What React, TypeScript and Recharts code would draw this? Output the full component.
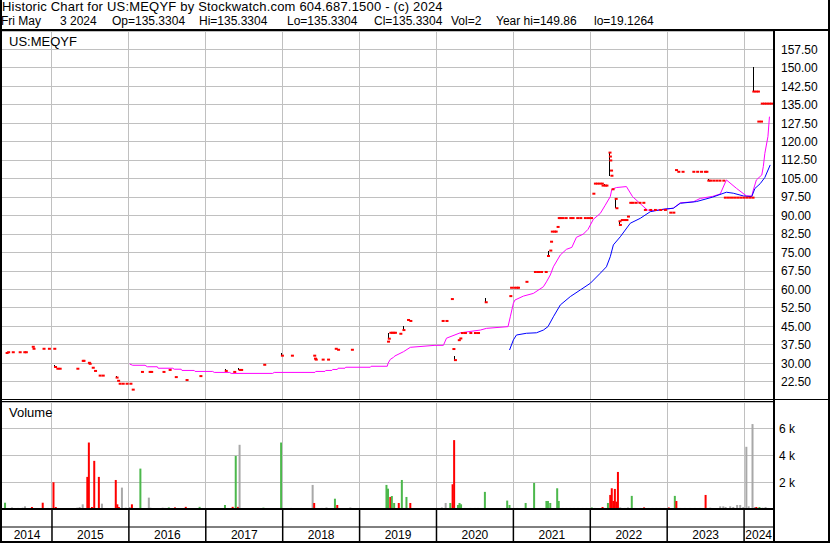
import React from 'react'
import { ComposedChart, Bar, Line, Scatter, XAxis, YAxis, CartesianGrid } from 'recharts'

// time axis in fractional years, first bar mid-May 2014, last May 3 2024
const X_DOMAIN: [number, number] = [2014.35, 2024.376]
const PRICE_DOMAIN: [number, number] = [15.5, 165]
const VOLUME_DOMAIN: [number, number] = [0, 8000]
const yearBounds = [2015, 2016, 2017, 2018, 2019, 2020, 2021, 2022, 2023, 2024]
const yearCentres = [2014.675, 2015.5, 2016.5, 2017.5, 2018.5, 2019.5, 2020.5, 2021.5, 2022.5, 2023.5, 2024.19]
const priceTicks = [22.5, 30, 37.5, 45, 52.5, 60, 67.5, 75, 82.5, 90, 97.5, 105, 112.5, 120, 127.5, 135, 142.5, 150, 157.5]
const volumeTicks = [2000, 4000, 6000]

// [year, close]
const closes: [number, number][] = [
  [2014.41, 34.2], [2014.43, 34.5], [2014.49, 34.5], [2014.58, 34.5], [2014.64, 34.5], [2014.66, 34.5],
  [2014.75, 36.7], [2014.76, 35.9], [2014.89, 35.9], [2014.96, 35.9], [2015.03, 35.9], [2015.04, 28.5],
  [2015.07, 27.8], [2015.1, 27.8], [2015.33, 27.8], [2015.4, 31.0], [2015.41, 31.0], [2015.48, 30.2],
  [2015.49, 29.8], [2015.53, 28.2], [2015.56, 26.9], [2015.62, 25.0], [2015.66, 25.0], [2015.84, 24.2],
  [2015.86, 22.9], [2015.88, 21.7], [2015.92, 21.7], [2015.97, 21.7], [2016.02, 21.7], [2016.05, 19.3],
  [2016.17, 26.5], [2016.27, 26.5], [2016.29, 26.5], [2016.45, 26.5], [2016.53, 27.3], [2016.61, 24.4],
  [2016.75, 23.2], [2016.93, 24.8], [2017.26, 26.9], [2017.37, 26.5], [2017.44, 27.3], [2017.46, 27.3],
  [2017.76, 29.4], [2017.99, 33.1], [2018.12, 33.1], [2018.41, 33.1], [2018.42, 31.9], [2018.43, 31.5],
  [2018.52, 31.5], [2018.59, 31.5], [2018.69, 35.9], [2018.72, 35.5], [2018.9, 35.5], [2019.37, 38.8],
  [2019.38, 40.0], [2019.4, 42.4], [2019.42, 42.4], [2019.44, 42.4], [2019.46, 42.4], [2019.53, 42.0],
  [2019.57, 43.5], [2019.63, 47.6], [2019.66, 47.2], [2020.08, 47.2], [2020.13, 47.2], [2020.2, 56.1],
  [2020.22, 35.8], [2020.24, 31.3], [2020.29, 39.4], [2020.31, 40.1], [2020.33, 42.3], [2020.37, 42.3],
  [2020.44, 42.3], [2020.5, 42.3], [2020.54, 42.3], [2020.64, 54.8], [2020.96, 57.3], [2020.97, 60.7],
  [2021.01, 60.7], [2021.04, 60.7], [2021.06, 60.7], [2021.17, 63.1], [2021.28, 67.1], [2021.32, 67.1],
  [2021.36, 67.1], [2021.42, 67.1], [2021.45, 73.6], [2021.48, 75.8], [2021.49, 79.4], [2021.5, 83.5],
  [2021.53, 83.5], [2021.55, 83.5], [2021.575, 85.4], [2021.59, 89.0], [2021.61, 89.0], [2021.64, 89.0],
  [2021.68, 89.0], [2021.74, 89.0], [2021.77, 89.0], [2021.83, 89.0], [2021.87, 89.0], [2021.93, 89.0],
  [2021.97, 89.0], [2022.01, 89.0], [2022.04, 98.9], [2022.06, 103.0], [2022.09, 103.0], [2022.12, 103.0],
  [2022.15, 103.0], [2022.16, 102.2], [2022.19, 102.2], [2022.21, 102.2], [2022.25, 115.6], [2022.255, 114.0],
  [2022.26, 112.4], [2022.27, 108.3], [2022.275, 106.2], [2022.29, 100.7], [2022.33, 96.8], [2022.34, 93.0],
  [2022.38, 87.7], [2022.385, 86.2], [2022.41, 88.2], [2022.44, 88.2], [2022.47, 88.2], [2022.49, 89.6],
  [2022.52, 95.2], [2022.55, 95.2], [2022.59, 95.2], [2022.64, 95.2], [2022.69, 95.2], [2022.71, 92.3],
  [2022.78, 92.3], [2022.84, 92.3], [2022.91, 92.3], [2022.97, 92.3], [2023.04, 91.2], [2023.08, 91.2],
  [2023.115, 108.5], [2023.145, 107.8], [2023.2, 107.8], [2023.34, 107.8], [2023.39, 107.8], [2023.44, 107.8],
  [2023.49, 107.8], [2023.51, 107.8], [2023.535, 104.2], [2023.56, 104.2], [2023.6, 104.2], [2023.64, 104.2],
  [2023.68, 104.2], [2023.73, 104.2], [2023.75, 97.3], [2023.79, 97.3], [2023.83, 97.3], [2023.87, 97.3],
  [2023.91, 97.3], [2023.95, 97.3], [2023.99, 97.3], [2024.03, 97.3], [2024.07, 97.3], [2024.11, 97.3],
  [2024.12, 140.4], [2024.15, 140.4], [2024.18, 140.4], [2024.185, 128.2], [2024.22, 128.2],
  [2024.23, 135.5], [2024.26, 135.5], [2024.29, 135.5], [2024.32, 135.5], [2024.35, 135.5],
]

// [year, low, high] for the days with a visible range
const hiLo: [number, number, number][] = [
  [2015.03, 28.5, 29.3], [2015.84, 24.2, 25.0], [2017.25, 26.9, 27.6], [2017.43, 27.3, 28.0],
  [2017.99, 33.1, 34.3], [2019.38, 40.0, 42.4], [2019.57, 43.5, 45.3], [2020.24, 31.3, 33.1],
  [2020.64, 54.8, 56.6], [2021.46, 73.6, 75.8], [2022.18, 102.2, 103.0], [2022.25, 106.2, 115.6],
  [2022.33, 93.0, 96.8], [2022.38, 86.2, 88.0], [2023.535, 104.2, 105.0], [2024.12, 140.4, 150.3],
]

const avgFast: [number, number][] = [
  [2016.01, 29.7], [2016.05, 29.2], [2016.21, 29.2], [2016.24, 28.6], [2016.37, 28.6], [2016.38, 28.0],
  [2016.57, 28.0], [2016.59, 27.6], [2016.68, 27.6], [2016.69, 27.1], [2016.85, 27.1], [2016.86, 26.7],
  [2017.09, 26.7], [2017.11, 26.3], [2017.31, 26.3], [2017.33, 25.9], [2017.87, 25.9], [2017.89, 26.3],
  [2018.42, 26.3], [2018.43, 26.7], [2018.55, 26.7], [2018.56, 27.1], [2018.64, 27.1], [2018.65, 27.5],
  [2018.71, 27.5], [2018.72, 28.0], [2018.81, 28.0], [2018.82, 28.4], [2019.14, 28.4], [2019.15, 28.8],
  [2019.36, 28.8], [2019.37, 30.0], [2019.4, 31.6], [2019.44, 32.4], [2019.46, 33.0], [2019.57, 34.7],
  [2019.66, 36.5], [2019.98, 37.3], [2020.09, 37.3], [2020.13, 40.2], [2020.31, 42.4], [2020.57, 43.5],
  [2020.65, 44.2], [2020.93, 44.9], [2020.96, 48.9], [2021.0, 54.4], [2021.02, 55.7], [2021.13, 57.3],
  [2021.26, 58.4], [2021.39, 61.1], [2021.43, 63.1], [2021.48, 65.9], [2021.52, 69.2], [2021.61, 74.0],
  [2021.69, 76.3], [2021.76, 77.1], [2021.82, 81.2], [2021.91, 82.5], [2021.97, 84.4], [2022.04, 88.5],
  [2022.13, 90.9], [2022.19, 94.0], [2022.26, 97.7], [2022.28, 100.7], [2022.34, 101.4], [2022.47, 101.8],
  [2022.55, 97.7], [2022.74, 92.3], [2022.82, 92.0], [2023.08, 93.0], [2023.17, 95.2], [2023.34, 95.6],
  [2023.43, 97.0], [2023.59, 97.8], [2023.69, 98.8], [2023.77, 104.5], [2023.9, 101.1], [2024.03, 98.0],
  [2024.1, 98.0], [2024.12, 100.4], [2024.16, 104.5], [2024.23, 106.5], [2024.25, 109.9], [2024.27, 115.3],
  [2024.31, 122.1], [2024.33, 130.2],
]

const avgSlow: [number, number][] = [
  [2020.95, 35.4], [2021.0, 39.5], [2021.04, 41.5], [2021.17, 42.2], [2021.3, 42.4], [2021.39, 43.5],
  [2021.45, 44.9], [2021.52, 48.9], [2021.61, 53.7], [2021.74, 57.1], [2021.87, 59.8], [2022.0, 62.5],
  [2022.13, 66.6], [2022.21, 69.2], [2022.26, 73.3], [2022.3, 78.1], [2022.39, 81.4], [2022.52, 86.9],
  [2022.65, 88.9], [2022.78, 91.6], [2022.95, 92.6], [2023.08, 93.0], [2023.17, 95.0], [2023.38, 95.7],
  [2023.59, 97.5], [2023.77, 99.5], [2023.86, 99.1], [2023.99, 98.0], [2024.1, 97.7], [2024.14, 101.0],
  [2024.21, 103.0], [2024.27, 105.5], [2024.34, 110.6],
]

// [year, volume, r = down / g = up / n = unchanged]
const volumes: [number, number, string][] = [
  [2014.39, 470, 'g'], [2014.48, 120, 'n'], [2014.56, 80, 'n'], [2014.62, 100, 'n'], [2014.65, 200, 'n'],
  [2014.74, 150, 'r'], [2014.88, 470, 'r'], [2014.95, 80, 'n'], [2015.02, 2000, 'r'], [2015.05, 150, 'r'],
  [2015.08, 80, 'n'], [2015.33, 100, 'n'], [2015.36, 150, 'n'], [2015.4, 350, 'n'], [2015.46, 2400, 'r'],
  [2015.48, 4970, 'r'], [2015.52, 150, 'r'], [2015.55, 3600, 'r'], [2015.61, 2400, 'r'], [2015.65, 400, 'n'],
  [2015.83, 2170, 'r'], [2015.85, 350, 'r'], [2015.87, 150, 'r'], [2015.91, 1600, 'n'], [2015.96, 100, 'n'],
  [2016.01, 150, 'n'], [2016.04, 350, 'r'], [2016.15, 3020, 'g'], [2016.26, 850, 'n'], [2016.28, 100, 'n'],
  [2016.44, 100, 'n'], [2016.47, 80, 'n'], [2016.52, 120, 'g'], [2016.6, 120, 'r'], [2016.74, 160, 'r'],
  [2016.92, 160, 'g'], [2017.25, 300, 'g'], [2017.35, 160, 'r'], [2017.39, 3970, 'g'], [2017.42, 160, 'r'],
  [2017.44, 4800, 'n'], [2017.75, 100, 'g'], [2017.98, 4970, 'g'], [2018.11, 80, 'n'], [2018.39, 1800, 'n'],
  [2018.41, 450, 'r'], [2018.51, 80, 'n'], [2018.57, 120, 'n'], [2018.68, 770, 'g'], [2018.71, 300, 'r'],
  [2018.88, 120, 'n'], [2019.35, 1800, 'g'], [2019.37, 1520, 'g'], [2019.4, 900, 'r'], [2019.42, 970, 'g'],
  [2019.45, 450, 'g'], [2019.51, 450, 'r'], [2019.55, 2170, 'g'], [2019.57, 80, 'n'], [2019.61, 900, 'g'],
  [2019.66, 450, 'r'], [2020.07, 120, 'n'], [2020.12, 450, 'n'], [2020.18, 450, 'g'], [2020.21, 1850, 'r'],
  [2020.23, 5150, 'r'], [2020.28, 300, 'g'], [2020.3, 450, 'g'], [2020.32, 350, 'g'], [2020.37, 80, 'n'],
  [2020.44, 80, 'n'], [2020.5, 80, 'n'], [2020.54, 80, 'n'], [2020.63, 1280, 'g'], [2020.92, 630, 'g'],
  [2020.95, 300, 'g'], [2020.97, 80, 'n'], [2021.01, 80, 'n'], [2021.05, 80, 'n'], [2021.16, 450, 'g'],
  [2021.27, 1950, 'g'], [2021.35, 80, 'n'], [2021.38, 80, 'n'], [2021.43, 600, 'g'], [2021.45, 600, 'g'],
  [2021.48, 450, 'g'], [2021.57, 1550, 'g'], [2021.59, 600, 'g'], [2021.64, 80, 'n'], [2021.69, 80, 'n'],
  [2021.74, 80, 'n'], [2021.79, 80, 'n'], [2021.84, 80, 'n'], [2021.9, 80, 'n'], [2021.95, 80, 'n'],
  [2022.02, 120, 'g'], [2022.06, 80, 'n'], [2022.16, 150, 'r'], [2022.19, 80, 'n'], [2022.23, 450, 'g'],
  [2022.26, 1050, 'r'], [2022.28, 1550, 'r'], [2022.3, 600, 'r'], [2022.32, 1500, 'r'], [2022.34, 550, 'r'],
  [2022.36, 2770, 'r'], [2022.39, 120, 'n'], [2022.45, 80, 'n'], [2022.49, 120, 'n'], [2022.54, 980, 'g'],
  [2022.58, 80, 'n'], [2022.65, 80, 'n'], [2022.7, 120, 'r'], [2022.76, 80, 'n'], [2022.81, 80, 'n'],
  [2022.86, 80, 'n'], [2022.91, 80, 'n'], [2022.96, 80, 'n'], [2023.02, 120, 'r'], [2023.1, 980, 'g'],
  [2023.12, 600, 'r'], [2023.17, 80, 'n'], [2023.23, 80, 'n'], [2023.3, 80, 'n'], [2023.36, 80, 'n'],
  [2023.43, 80, 'n'], [2023.5, 1050, 'r'], [2023.56, 100, 'n'], [2023.69, 200, 'n'], [2023.73, 200, 'n'],
  [2023.76, 150, 'n'], [2023.82, 200, 'n'], [2023.86, 150, 'n'], [2023.91, 300, 'n'], [2023.95, 300, 'n'],
  [2023.99, 150, 'n'], [2024.03, 4650, 'n'], [2024.06, 200, 'n'], [2024.11, 6350, 'n'], [2024.14, 150, 'n'],
  [2024.16, 150, 'r'], [2024.2, 150, 'g'], [2024.24, 100, 'n'], [2024.28, 150, 'n'], [2024.31, 80, 'n'],
]

const FONT = 'Arial, "Liberation Sans", sans-serif'
const GRID = '#c0c0c0'
const VOL_COLORS: Record<string, string> = { r: '#ff0000', g: '#4cb84c', n: '#a8a8a8' }

const toPoints = (rows: [number, number][]) => rows.map(([t, p]) => ({ t, p }))
const volData = volumes.map(([t, v, c]) => ({ t, v, c }))

const tickStyle = { fill: '#000', fontSize: 12, fontFamily: FONT }

function CloseTick(props: any) {
  const { cx, cy } = props
  if (cx == null || cy == null) return <g />
  return <rect x={cx - 1} y={cy - 1} width={3} height={2} fill="#ff0000" />
}

function VolumeBar(props: any) {
  const { x, y, width, height, payload } = props
  if (x == null || !height) return <g />
  return <rect x={x + width / 2 - 1} y={y} width={2} height={height} fill={VOL_COLORS[payload.c]} />
}

const NoTick = () => <g />

// one vertical grey line per year boundary, spanning the whole value domain
const yearLines = (key: string, domain: [number, number], axisId: string | number) =>
  yearBounds.map((y) => (
    <Line
      key={`yr${y}`}
      xAxisId={axisId}
      data={[{ t: y, [key]: domain[0] }, { t: y, [key]: domain[1] }]}
      dataKey={key}
      stroke={GRID}
      strokeWidth={1}
      shapeRendering="crispEdges"
      dot={false}
      activeDot={false}
      isAnimationActive={false}
    />
  ))

function PriceChart() {
  return (
    <ComposedChart width={830} height={368} margin={{ top: 0, right: 0, bottom: 0, left: 2 }}>
      <CartesianGrid stroke={GRID} vertical={false} shapeRendering="crispEdges" />
      <XAxis
        type="number"
        dataKey="t"
        domain={X_DOMAIN}
        ticks={yearBounds}
        interval={0}
        allowDataOverflow
        height={0}
        tick={false}
        tickLine={false}
        axisLine={false}
      />
      <YAxis
        type="number"
        dataKey="p"
        orientation="right"
        width={57}
        domain={PRICE_DOMAIN}
        ticks={priceTicks}
        interval={0}
        allowDataOverflow
        axisLine={false}
        tickLine={false}
        tick={tickStyle}
        tickFormatter={(v: number) => v.toFixed(2)}
      />
      {yearLines('p', PRICE_DOMAIN, 0)}
      <Line data={toPoints(avgFast)} dataKey="p" stroke="#ff00ff" strokeWidth={1} dot={false} isAnimationActive={false} />
      <Line data={toPoints(avgSlow)} dataKey="p" stroke="#0000ff" strokeWidth={1} dot={false} isAnimationActive={false} />
      {hiLo.map(([t, lo, hi], i) => (
        <Line
          key={i}
          data={[{ t, p: lo }, { t, p: hi }]}
          dataKey="p"
          stroke="#000"
          strokeWidth={1}
          shapeRendering="crispEdges"
          dot={false}
          isAnimationActive={false}
        />
      ))}
      <Scatter data={toPoints(closes)} shape={CloseTick} isAnimationActive={false} />
    </ComposedChart>
  )
}

function VolumeChart() {
  return (
    <ComposedChart width={830} height={140} data={volData} margin={{ top: 0, right: 0, bottom: 0, left: 2 }}>
      <CartesianGrid stroke={GRID} vertical={false} xAxisId="a" shapeRendering="crispEdges" />
      <XAxis
        xAxisId="a"
        type="number"
        dataKey="t"
        domain={X_DOMAIN}
        ticks={yearBounds}
        interval={0}
        allowDataOverflow
        height={18}
        tick={NoTick}
        tickSize={32}
        tickLine={{ stroke: '#000', strokeWidth: 1.5 }}
        axisLine={{ stroke: '#000', strokeWidth: 2 }}
      />
      <XAxis
        xAxisId="b"
        type="number"
        dataKey="t"
        domain={X_DOMAIN}
        ticks={yearCentres}
        interval={0}
        allowDataOverflow
        height={15}
        tickLine={false}
        tickSize={0}
        tickMargin={3}
        axisLine={{ stroke: '#000' }}
        tick={tickStyle}
        tickFormatter={(v: number) => String(Math.floor(v))}
      />
      <YAxis
        orientation="right"
        width={57}
        domain={VOLUME_DOMAIN}
        ticks={volumeTicks}
        interval={0}
        allowDataOverflow
        axisLine={false}
        tickLine={false}
        tickMargin={0}
        tick={tickStyle}
        tickFormatter={(v: number) => `${v / 1000} k`}
      />
      {yearLines('v', VOLUME_DOMAIN, 'a')}
      <Bar xAxisId="a" dataKey="v" barSize={2} shape={VolumeBar} isAnimationActive={false} />
    </ComposedChart>
  )
}

const rule = (left: number, top: number, width: number, height: number): React.CSSProperties => ({
  position: 'absolute', left, top, width, height, background: '#000',
})

export default function App() {
  const line2: [number, string][] = [
    [1, 'Fri May'], [60, '3 2024'], [112, 'Op=135.3304'], [199, 'Hi=135.3304'], [287, 'Lo=135.3304'],
    [374, 'Cl=135.3304'], [451, 'Vol=2'], [496, 'Year hi=149.86'], [594, 'lo=19.1264'],
  ]
  return (
    <div style={{ position: 'absolute', left: 0, top: 0, width: 830, height: 543, background: '#fff', fontFamily: FONT, color: '#000', overflow: 'hidden' }}>
      <div style={{ position: 'absolute', left: 2, top: 0, fontSize: 13, lineHeight: '14px', letterSpacing: 0.2, whiteSpace: 'pre' }}>
        Historic Chart for US:MEQYF by Stockwatch.com 604.687.1500 - (c) 2024
      </div>
      {line2.map(([x, s]) => (
        <div key={s} style={{ position: 'absolute', left: x, top: 14, fontSize: 12, lineHeight: '14px', whiteSpace: 'pre' }}>{s}</div>
      ))}
      <div style={{ position: 'absolute', left: 0, top: 31 }}>
        <PriceChart />
      </div>
      <div style={{ position: 'absolute', left: 0, top: 402 }}>
        <VolumeChart />
      </div>
      <div style={{ position: 'absolute', left: 9, top: 35, fontSize: 13, lineHeight: '14px' }}>US:MEQYF</div>
      <div style={{ position: 'absolute', left: 9, top: 406, fontSize: 13, lineHeight: '14px' }}>Volume</div>
      <div style={rule(0, 29, 830, 2)} />
      <div style={rule(0, 399, 830, 1)} />
      <div style={rule(0, 401, 775, 1)} />
      <div style={rule(773, 30, 2, 513)} />
      <div style={rule(0, 0, 2, 543)} />
      <div style={rule(828, 0, 2, 543)} />
      <div style={rule(0, 541, 830, 2)} />
    </div>
  )
}
